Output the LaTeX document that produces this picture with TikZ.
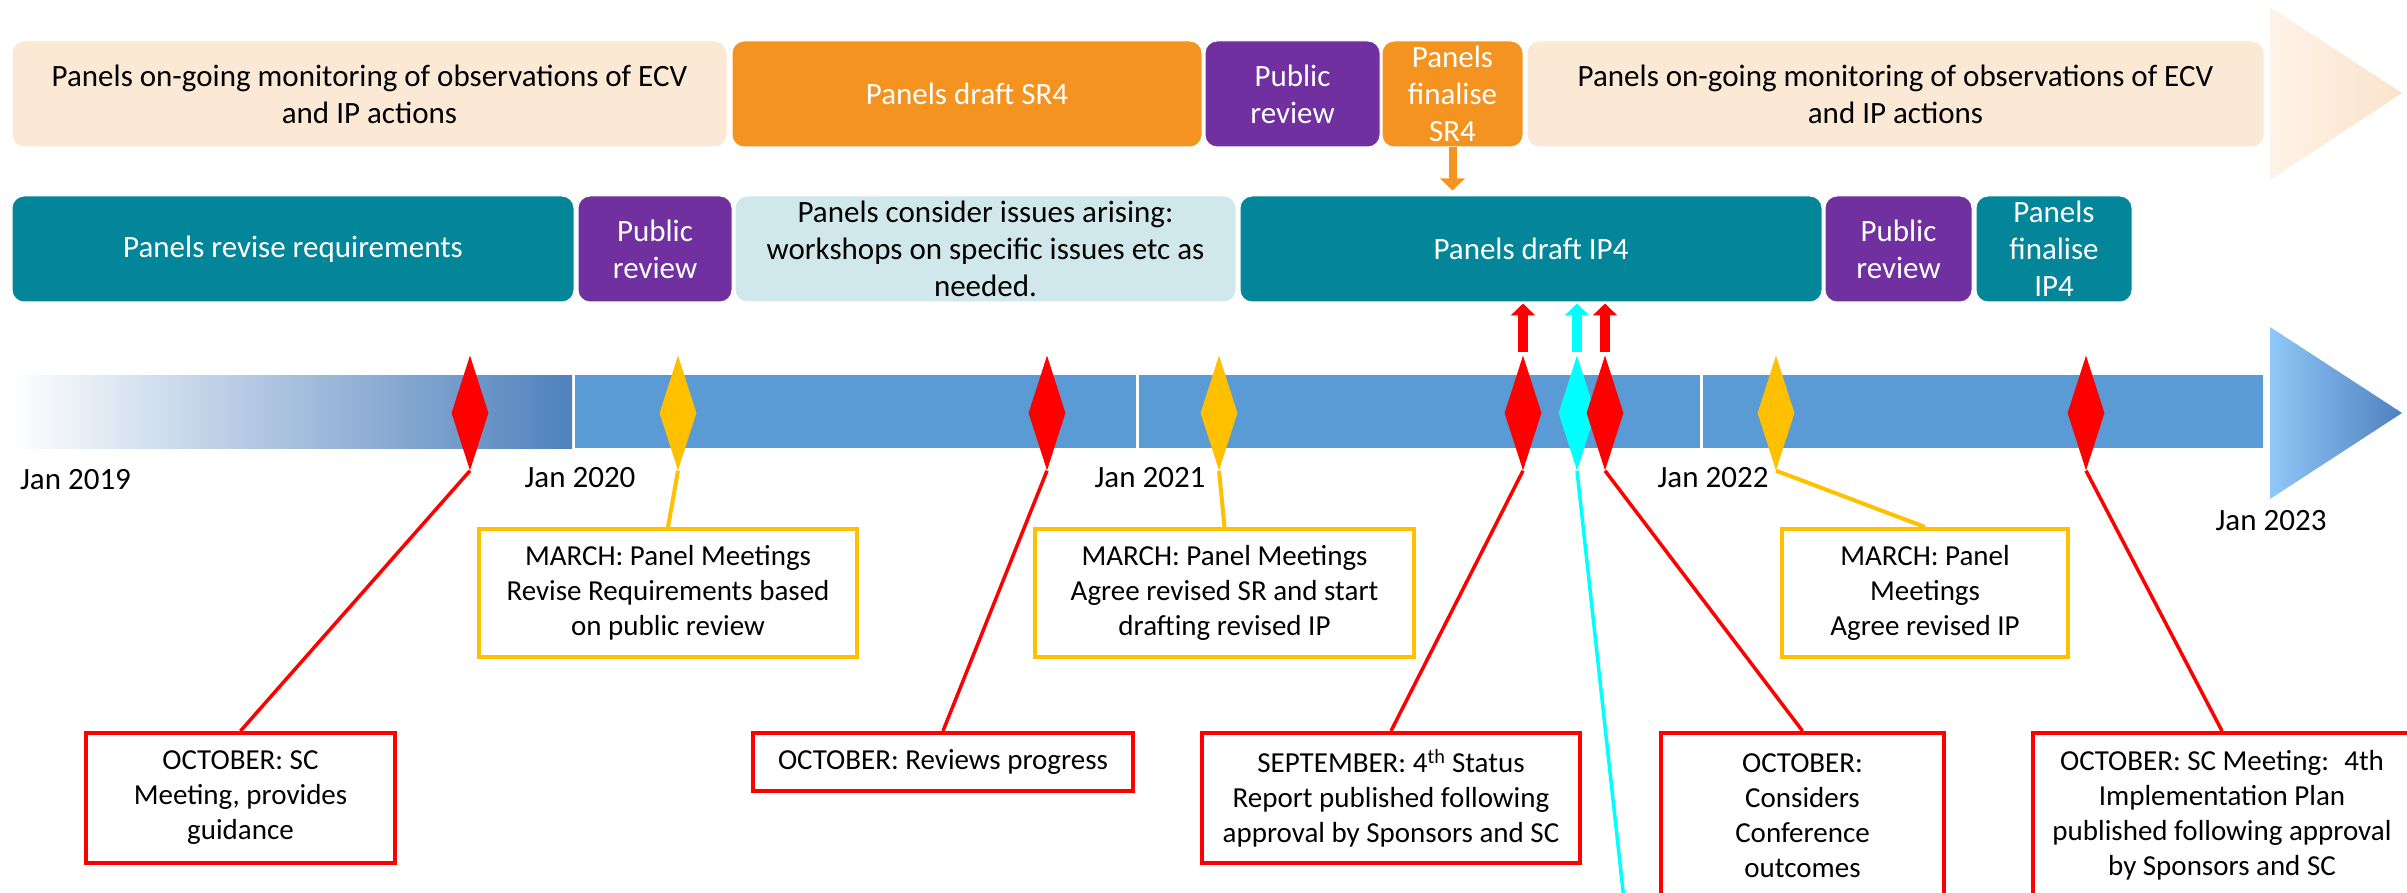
\documentclass[tikz,border=0pt]{standalone}
\usepackage{fontspec}
\setmainfont{Carlito}
\usetikzlibrary{shapes.geometric,arrows.meta}
\definecolor{beige}{HTML}{FBE9D5}
\definecolor{orng}{HTML}{F59321}
\definecolor{purp}{HTML}{7030A0}
\definecolor{tealc}{HTML}{03869A}
\definecolor{ltblue}{HTML}{D0E8EC}
\definecolor{barblue}{HTML}{5B9BD5}
\definecolor{darkblue}{HTML}{4F81BD}
\definecolor{midblue}{HTML}{6A92C7}
\definecolor{lightarrowblue}{HTML}{8FC8F8}
\definecolor{beigeL}{HTML}{FEF3E8}
\definecolor{beigeR}{HTML}{FAE3CB}
\definecolor{mred}{HTML}{FF0000}
\definecolor{myel}{HTML}{FFC000}
\definecolor{mcyan}{HTML}{00FFFF}
\tikzset{
  phase/.style={rounded corners=12pt, draw=white, line width=1pt, inner sep=0pt,
    align=center, font=\fontsize{31}{37}\selectfont, minimum height=106pt},
  lightphase/.style={phase, text=black},
  darkphase/.style={phase, text=white},
  callout/.style={draw, line width=4pt, fill=white, inner sep=0pt, align=center,
    font=\fontsize{29}{35}\selectfont, text=black},
  redbox/.style={callout, draw=mred},
  yelbox/.style={callout, draw=myel},
  mdiam/.style={diamond, inner sep=0pt, minimum width=37pt, minimum height=115pt, draw=none},
  yearlabel/.style={font=\fontsize{31}{37}\selectfont, text=black, inner sep=0pt},
  redline/.style={draw=mred, line width=3.5pt},
  yelline/.style={draw=myel, line width=4pt},
  cyanline/.style={draw=mcyan, line width=3.5pt},
  uparrow/.style={line width=10pt, -{Triangle[width=24pt,length=12pt]}, shorten <=3pt, shorten >=1pt},
}
\begin{document}
\begin{tikzpicture}[x=1pt,y=-1pt]
\useasboundingbox (0,0) rectangle (2407,893);
\clip (0,0) rectangle (2407,893);
\fill[white] (0,0) rectangle (2407,893);

% top background arrow
\shade[left color=beigeL, right color=beigeR] (2270,7) -- (2402,93) -- (2270,180) -- cycle;

% top row
\node[lightphase, fill=beige, minimum width=715pt] (b1) at (369.5,94)
  {Panels on-going monitoring of observations of ECV\\and IP actions};
\node[darkphase, fill=orng, minimum width=470pt] (sr4) at (967,94) {Panels draft SR4};
\node[darkphase, fill=purp, minimum width=175pt] (pr1) at (1292.5,94) {Public\\review};
\node[darkphase, fill=orng, minimum width=141pt] (fsr) at (1452.5,94) {Panels\\finalise\\SR4};
\node[lightphase, fill=beige, minimum width=737pt] (b2) at (1895.5,94)
  {Panels on-going monitoring of observations of ECV\\and IP actions};

% second row
\node[darkphase, fill=tealc, minimum width=562pt] (rr) at (293,249) {Panels revise requirements};
\node[darkphase, fill=purp, minimum width=154pt] (pr2) at (655,249) {Public\\review};
\node[lightphase, fill=ltblue, minimum width=501pt] (ci) at (985.5,249)
  {Panels consider issues arising:\\workshops on specific issues etc as\\needed.};
\node[darkphase, fill=tealc, minimum width=582pt] (ip4) at (1531,249) {Panels draft IP4};
\node[darkphase, fill=purp, minimum width=147pt] (pr3) at (1898.5,249) {Public\\review};
\node[darkphase, fill=tealc, minimum width=156pt] (fip) at (2054,249) {Panels\\finalise\\IP4};

\draw[orng, line width=8pt, -{Triangle[width=24pt,length=12pt]}, shorten >=5pt]
  (fsr.south) -- (fsr.south |- ip4.north);

% timeline bar
\shade[left color=white, middle color=midblue, right color=darkblue] (10,375) rectangle (572,448);
\fill[barblue] (575,375) rectangle (1136,448);
\fill[barblue] (1139,375) rectangle (1700,448);
\fill[barblue] (1703,375) rectangle (2263,448);
\shade[left color=lightarrowblue, right color=darkblue] (2270,327) -- (2402,413) -- (2270,499) -- cycle;

% year labels
\node[yearlabel] (y19) at (75.5,480) {Jan 2019};
\node[yearlabel] (y20) at (580,478) {Jan 2020};
\node[yearlabel] (y21) at (1150,478) {Jan 2021};
\node[yearlabel] (y22) at (1713,478) {Jan 2022};
\node[yearlabel] (y23) at (2271,521) {Jan 2023};

% milestones
\node[mdiam, fill=mred] (dr1) at (470,413) {};
\node[mdiam, fill=myel] (dy1) at (678,413) {};
\node[mdiam, fill=mred] (dr2) at (1047,413) {};
\node[mdiam, fill=myel] (dy2) at (1219,413) {};
\node[mdiam, fill=mred] (dr3) at (1523,413) {};
\node[mdiam, fill=mcyan] (dc) at (1577,413) {};
\node[mdiam, fill=mred] (dr4) at (1605,413) {};
\node[mdiam, fill=myel] (dy3) at (1776,413) {};
\node[mdiam, fill=mred] (dr5) at (2086,413) {};

% small up arrows to IP4
\draw[mred, uparrow] (dr3.north) -- (dr3.north |- ip4.south);
\draw[mcyan, uparrow] (dc.north) -- (dc.north |- ip4.south);
\draw[mred, uparrow] (dr4.north) -- (dr4.north |- ip4.south);

% callout boxes
\node[yelbox, minimum width=378pt, minimum height=128pt] (cy1) at (668,593)
  {MARCH: Panel Meetings\\Revise Requirements based\\on public review};
\node[yelbox, minimum width=379pt, minimum height=128pt] (cy2) at (1224.5,593)
  {MARCH: Panel Meetings\\Agree revised SR and start\\drafting revised IP};
\node[yelbox, minimum width=286pt, minimum height=128pt] (cy3) at (1925,593)
  {MARCH: Panel\\Meetings\\Agree revised IP};

\node[redbox, minimum width=309pt, minimum height=130pt] (cr1) at (240.5,798)
  {OCTOBER: SC\\Meeting, provides\\guidance};
\node[redbox, minimum width=380pt, minimum height=58pt] (cr2) at (943,762)
  {OCTOBER: Reviews progress};
\node[redbox, minimum width=378pt, minimum height=130pt] (cr3) at (1391,798)
  {SEPTEMBER: 4\textsuperscript{th} Status\\Report published following\\approval by Sponsors and SC};
\node[redbox, minimum width=283pt, minimum height=165pt] (cr4) at (1802.5,815.5)
  {OCTOBER:\\Considers\\Conference\\outcomes};
\node[redbox, minimum width=378pt, minimum height=165pt] (cr5) at (2222,815.5)
  {OCTOBER: SC Meeting:~ 4th\\Implementation Plan\\published following approval\\by Sponsors and SC};

\coordinate (cend) at (1624,900);

% connectors
\draw[redline] (dr1.south) -- (cr1.north);
\draw[yelline] (dy1.south) -- (cy1.north);
\draw[redline] (dr2.south) -- (cr2.north);
\draw[yelline] (dy2.south) -- (cy2.north);
\draw[redline] (dr3.south) -- (cr3.north);
\draw[cyanline] (dc.south) -- (cend);
\draw[redline] (dr4.south) -- (cr4.north);
\draw[yelline] (dy3.south) -- (cy3.north);
\draw[redline] (dr5.south) -- (cr5.north);
\end{tikzpicture}
\end{document}
